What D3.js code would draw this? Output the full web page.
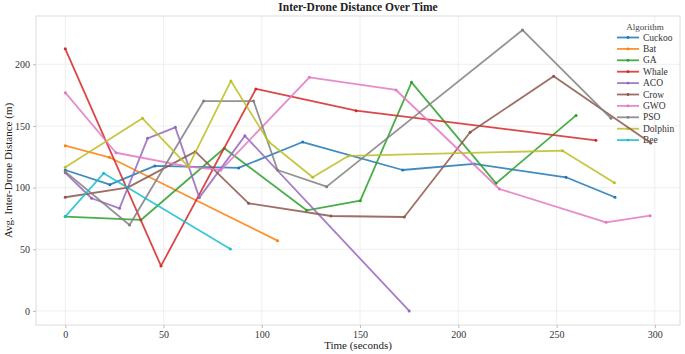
<!DOCTYPE html>
<html lang="en">
<head>
<meta charset="UTF-8">
<title>Inter-Drone Distance Over Time</title>
<script src="https://d3js.org/d3.v7.min.js"></script>
<style>
    body { margin: 0; background: #fff; }
    svg text { font-family: "Liberation Serif", "Times New Roman", serif; fill: #222; }
    .grid line { stroke: #ebebeb; stroke-width: 0.8; }
    .axis path { stroke: #d0d0d0; }
    .axis line { stroke: #bbb; }
    .line { fill: none; stroke-width: 1.8; stroke-linejoin: round; }
</style>
</head>
<body>
<div id="chart"></div>
<script>

// algorithms and their colours (matplotlib tab10)
const algorithms = ["Cuckoo", "Bat", "GA", "Whale", "ACO", "Crow", "GWO", "PSO", "Dolphin", "Bee"];
const colors = ["#1f77b4", "#ff7f0e", "#2ca02c", "#d62728", "#9467bd", "#8c564b", "#e377c2", "#7f7f7f", "#bcbd22", "#17becf"];

// time (s) and avg distance (m) per algorithm
const cuckooT = [0, 22.7, 45.6, 88.2, 120.8, 171.7, 208, 254.8, 279.7];
const cuckooV = [114.3, 102.4, 117.6, 116, 137, 114.3, 119.2, 108.4, 92.2];
const batT = [0, 22.4, 108];
const batV = [134, 124.6, 57];
const gaT = [0, 38.5, 80.9, 122.8, 150.1, 176.2, 219.2, 259.9];
const gaV = [76.5, 73.8, 131.9, 81.6, 89.4, 185.4, 103.5, 158.6];
const whaleT = [0, 48.7, 97, 148, 270];
const whaleV = [212.6, 36.5, 180, 162.4, 138.4];
const acoT = [0, 13.4, 27.6, 41.9, 56, 68.2, 91.4, 175];
const acoV = [112, 91.4, 83.2, 140, 148.9, 91.9, 142, 0];
const crowT = [0, 31.7, 66.2, 93.3, 135.2, 172.5, 206, 248.5, 297.9];
const crowV = [92.2, 100, 129.2, 87.3, 77, 76.2, 144.9, 190.3, 136.2];
const gwoT = [0, 25.8, 62.6, 79.2, 124.2, 168.3, 220.9, 275.2, 297.6];
const gwoV = [177, 128.3, 117, 114.3, 189.5, 179.2, 98.9, 71.9, 77.3];
const psoT = [0, 32.7, 70.4, 95.8, 108, 133, 232.7, 277.7];
const psoV = [113, 69.7, 170.2, 170.2, 114.3, 100.8, 227.8, 156.2];
const dolphinT = [0, 39.3, 62.6, 84.3, 103.5, 125.9, 144, 253, 279.4];
const dolphinV = [116.5, 156.2, 117, 186.5, 137.2, 108.4, 125.7, 130, 104];
const beeT = [0, 19.5, 84];
const beeV = [76.5, 111.6, 50.3];

const xTicks = [0, 50, 100, 150, 200, 250, 300];
const yTicks = [0, 50, 100, 150, 200];

const seriesT = [cuckooT, batT, gaT, whaleT, acoT, crowT, gwoT, psoT, dolphinT, beeT];
const seriesV = [cuckooV, batV, gaV, whaleV, acoV, crowV, gwoV, psoV, dolphinV, beeV];
const series = algorithms.map((name, i) => ({
    name: name,
    color: colors[i],
    points: seriesT[i].map((t, j) => ({ t: t, v: seriesV[i][j] }))
}));

const W = 685, H = 354;
const margin = { top: 16, right: 5, bottom: 29, left: 36 };
const width = W - margin.left - margin.right;
const height = H - margin.top - margin.bottom;

const svg = d3.select("#chart").append("svg")
    .attr("width", W)
    .attr("height", H);

const g = svg.append("g")
    .attr("transform", `translate(${margin.left},${margin.top})`);

// matplotlib style 5% padding
const allT = seriesT.flat(), allV = seriesV.flat();
const tExt = d3.extent(allT), vExt = d3.extent(allV);
const tPad = (tExt[1] - tExt[0]) * 0.05, vPad = (vExt[1] - vExt[0]) * 0.05;

const x = d3.scaleLinear().domain([tExt[0] - tPad, tExt[1] + tPad]).range([0, width]);
const y = d3.scaleLinear().domain([vExt[0] - vPad, vExt[1] + vPad]).range([height, 0]);

// grid
g.append("g").attr("class", "grid")
    .selectAll("line.v").data(xTicks).enter().append("line")
    .attr("x1", d => x(d)).attr("x2", d => x(d))
    .attr("y1", 0).attr("y2", height);
g.append("g").attr("class", "grid")
    .selectAll("line.h").data(yTicks).enter().append("line")
    .attr("x1", 0).attr("x2", width)
    .attr("y1", d => y(d)).attr("y2", d => y(d));

// frame
g.append("rect")
    .attr("width", width).attr("height", height)
    .attr("fill", "none").attr("stroke", "#dcdcdc").attr("stroke-width", 1);

const xAxis = g.append("g").attr("class", "axis")
    .attr("transform", `translate(0,${height})`)
    .call(d3.axisBottom(x).tickValues(xTicks).tickSize(3).tickPadding(3));
const yAxis = g.append("g").attr("class", "axis")
    .call(d3.axisLeft(y).tickValues(yTicks).tickSize(3).tickPadding(3));
[xAxis, yAxis].forEach(a => {
    a.select(".domain").remove();
    a.selectAll("text").style("font-size", "10px").style("fill", "#333");
});

// legend (drawn under the lines, as in the picture)
const legend = g.append("g")
    .attr("transform", `translate(${width - 63}, 0)`);
legend.append("text")
    .attr("x", 28).attr("y", 14)
    .attr("text-anchor", "middle")
    .style("font-size", "9px")
    .style("fill", "#444")
    .text("Algorithm");
series.forEach((s, i) => {
    const row = legend.append("g")
        .attr("transform", `translate(0, ${21.5 + i * 11.4})`);
    row.append("line")
        .attr("x1", 0).attr("x2", 22)
        .attr("stroke", s.color).attr("stroke-width", 1.8).attr("opacity", 0.85);
    row.append("circle")
        .attr("cx", 11).attr("r", 1.4).attr("fill", s.color);
    row.append("text")
        .attr("x", 26).attr("y", 3)
        .style("font-size", "9.5px")
        .style("fill", "#333")
        .text(s.name);
});

const line = d3.line().x(d => x(d.t)).y(d => y(d.v));

series.forEach(s => {
    g.append("path")
        .datum(s.points)
        .attr("class", "line")
        .attr("d", line)
        .attr("stroke", s.color)
        .attr("opacity", 0.85);
    g.selectAll(null)
        .data(s.points)
        .enter().append("circle")
        .attr("cx", d => x(d.t))
        .attr("cy", d => y(d.v))
        .attr("r", 1.5)
        .attr("fill", s.color);
});

// title and axis labels
svg.append("text")
    .attr("x", margin.left + width / 2).attr("y", 11)
    .attr("text-anchor", "middle")
    .style("font-size", "11.5px")
    .style("font-weight", "bold")
    .style("fill", "#222")
    .text("Inter-Drone Distance Over Time");

svg.append("text")
    .attr("x", margin.left + width / 2).attr("y", 349)
    .attr("text-anchor", "middle")
    .style("font-size", "11px")
    .text("Time (seconds)");

svg.append("text")
    .attr("transform", `translate(12, ${margin.top + height / 2}) rotate(-90)`)
    .attr("text-anchor", "middle")
    .style("font-size", "11px")
    .text("Avg. Inter-Drone Distance (m)");
</script>
</body>
</html>
